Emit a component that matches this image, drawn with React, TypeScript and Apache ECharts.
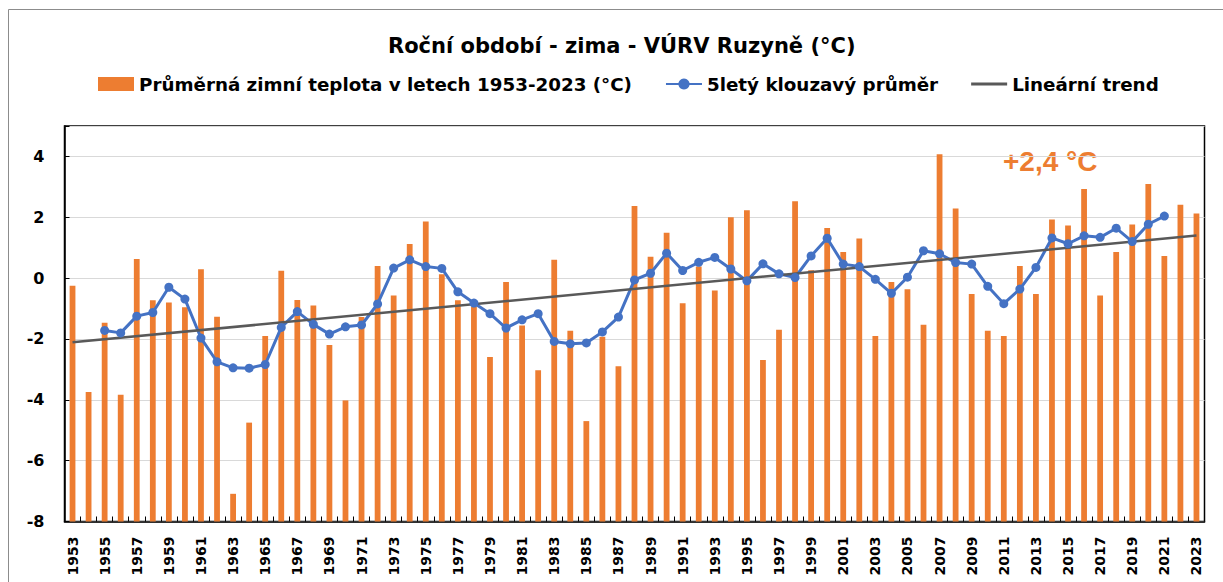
import React, { useEffect, useRef } from "react";
import * as echarts from "echarts";

const years: string[] = Array.from({ length: 71 }, (_, i) => String(1953 + i));

const winterTemps: number[] = [
  -0.25, -3.74, -1.47, -3.83, 0.63, -0.73, -0.8, -0.96, 0.29, -1.27,
  -7.09, -4.75, -1.9, 0.24, -0.72, -0.9, -2.2, -4.02, -1.28, 0.4,
  -0.57, 1.12, 1.86, 0.13, -0.73, -0.93, -2.59, -0.13, -1.56, -3.03,
  0.6, -1.73, -4.7, -1.93, -2.9, 2.37, 0.7, 1.49, -0.83, 0.38,
  -0.41, 2.0, 2.23, -2.69, -1.7, 2.53, 0.26, 1.65, 0.86, 1.3,
  -1.9, -0.13, -0.37, -1.53, 4.07, 2.29, -0.52, -1.73, -1.9, 0.4,
  -0.52, 1.93, 1.73, 2.93, -0.57, 0.86, 1.76, 3.09, 0.73, 2.41,
  2.12,
];

// 5-year moving average, 1955 – 2021
const maFirstYear = "1955";
const movingAvg: number[] = [
  -1.72, -1.8, -1.25, -1.13, -0.3, -0.69, -1.97, -2.75, -2.95, -2.96,
  -2.84, -1.62, -1.1, -1.52, -1.84, -1.6, -1.54, -0.85, 0.33, 0.6,
  0.38, 0.32, -0.45, -0.82, -1.17, -1.64, -1.37, -1.17, -2.08, -2.16,
  -2.13, -1.77, -1.28, -0.06, 0.16, 0.82, 0.25, 0.52, 0.68, 0.3,
  -0.09, 0.47, 0.14, 0.02, 0.73, 1.31, 0.46, 0.38, -0.04, -0.5,
  0.03, 0.9, 0.8, 0.51, 0.46, -0.27, -0.84, -0.36, 0.35, 1.32,
  1.13, 1.39, 1.34, 1.64, 1.2, 1.77, 2.04,
];

// linear trend end points (1953, 2023)
const trendEnds: number[] = [-2.11, 1.4];

const yTicks = { min: -8, max: 5, interval: 2 };

const seriesNames = [
  "Průměrná zimní teplota v letech 1953-2023 (°C)",
  "5letý klouzavý průměr",
  "Lineární trend",
];
const titleText = "Roční období - zima - VÚRV Ruzyně (°C)";
const annotation = "+2,4 °C";

const FONT = "'DejaVu Sans', sans-serif";

export default function App() {
  const ref = useRef<HTMLDivElement>(null);
  useEffect(() => {
    if (!ref.current) return;
    const chart = echarts.init(ref.current, undefined, { renderer: "svg" });
    const maStart = years.indexOf(maFirstYear);
    const maData = years.map((_, i) => {
      const k = i - maStart;
      return k >= 0 && k < movingAvg.length ? movingAvg[k] : null;
    });
    const trendData = years.map((_, i) =>
      i === 0 ? trendEnds[0] : i === years.length - 1 ? trendEnds[1] : null
    );
    chart.setOption({
      animation: false,
      backgroundColor: "#fff",
      title: {
        text: titleText,
        left: 383,
        top: 30,
        textStyle: { fontFamily: FONT, fontWeight: "bold", fontSize: 21, color: "#000" },
      },
      legend: {
        left: 98,
        top: 75,
        padding: 0,
        itemWidth: 36,
        itemHeight: 14,
        itemGap: 33,
        textStyle: { fontFamily: FONT, fontWeight: "bold", fontSize: 18.3, color: "#000" },
        data: [
          { name: seriesNames[0], icon: "rect" },
          { name: seriesNames[1] },
          { name: seriesNames[2], icon: "path://M0,0L36,0L36,3L0,3Z" },
        ],
      },
      grid: {
        left: 64.5,
        right: 18.5,
        top: 126,
        bottom: 60.5,
        show: true,
        borderColor: "#000",
        borderWidth: 1.5,
        containLabel: false,
      },
      xAxis: {
        type: "category",
        data: years,
        boundaryGap: true,
        axisLine: { onZero: false, lineStyle: { color: "#000", width: 1.5 } },
        axisTick: { show: true, inside: true, length: 5, interval: 0, lineStyle: { color: "#000" } },
        axisLabel: {
          interval: 1,
          rotate: 90,
          margin: 15,
          fontFamily: FONT,
          fontWeight: "bold",
          fontSize: 14,
          color: "#000",
        },
        splitLine: { show: false },
      },
      yAxis: {
        type: "value",
        min: yTicks.min,
        max: yTicks.max,
        interval: yTicks.interval,
        startValue: yTicks.min,
        axisLine: { show: true, lineStyle: { color: "#000", width: 1.5 } },
        axisTick: { show: true, inside: true, length: 5, lineStyle: { color: "#000" } },
        axisLabel: {
          margin: 20,
          fontFamily: FONT,
          fontWeight: "bold",
          fontSize: 16,
          color: "#000",
          formatter: (v: number) => (v > 4 ? "" : String(v)),
        },
        splitLine: { show: true, lineStyle: { color: "#d9d9d9", width: 1 } },
      },
      graphic: [
        {
          type: "rect",
          shape: { x: 8.5, y: 9.5, width: 1400, height: 800 },
          style: { fill: "none", stroke: "#8c8c8c", lineWidth: 1 },
          silent: true,
          z: -10,
        },
        {
          type: "text",
          left: 1003,
          top: 147,
          style: {
            text: annotation,
            fill: "#ED7D31",
            font: "bold 28px 'Liberation Sans', Arial, sans-serif",
          },
        },
      ],
      series: [
        {
          name: seriesNames[0],
          type: "bar",
          data: winterTemps,
          barWidth: "36%",
          itemStyle: { color: "#ED7D31" },
        },
        {
          name: seriesNames[1],
          type: "line",
          data: maData,
          symbol: "circle",
          symbolSize: 9,
          lineStyle: { color: "#4472C4", width: 3 },
          itemStyle: { color: "#4472C4" },
        },
        {
          name: seriesNames[2],
          type: "line",
          data: trendData,
          connectNulls: true,
          symbol: "none",
          lineStyle: { color: "#595959", width: 2.5 },
          itemStyle: { color: "#595959" },
        },
      ],
    });
    return () => chart.dispose();
  }, []);
  return (
    <div
      ref={ref}
      style={{ position: "absolute", left: 0, top: 0, width: 1223, height: 582 }}
    />
  );
}
